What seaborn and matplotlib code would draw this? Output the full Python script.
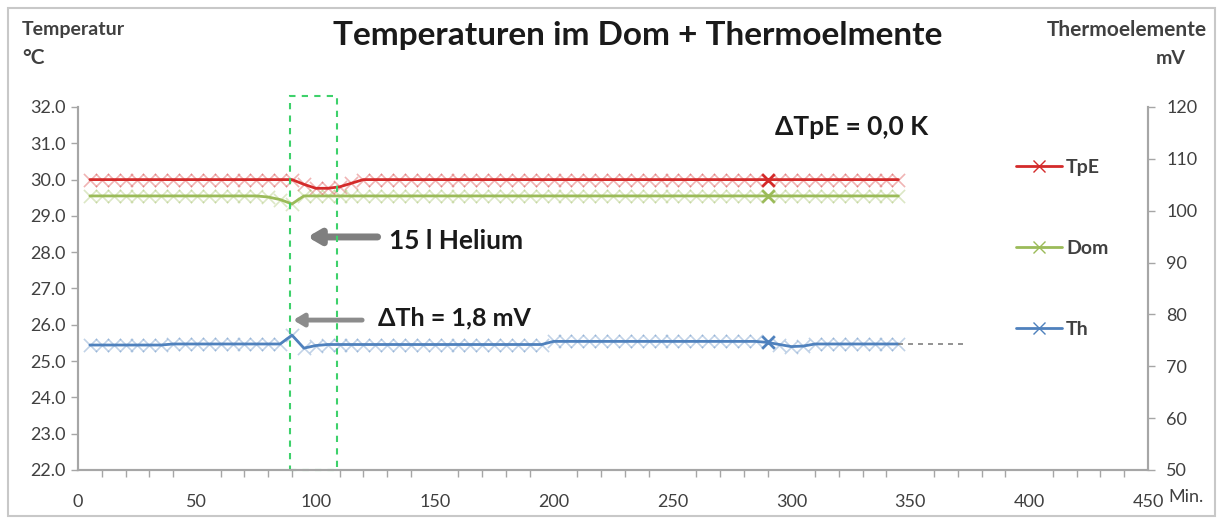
import matplotlib
matplotlib.use("Agg")
import matplotlib.pyplot as plt
import seaborn as sns
import pandas as pd
from matplotlib.lines import Line2D
from matplotlib.patches import Rectangle
from matplotlib.ticker import MultipleLocator, FormatStrFormatter

sns.set_theme(style="white")
plt.rcParams['font.family'] = ['Lato', 'DejaVu Sans']

# Daten: Minuten (alle 5 min) und Messwerte
minuten = list(range(5, 350, 5))
tpe = ([30.0] * 17 + [30.0, 29.87, 29.76, 29.76, 29.80, 29.90, 30.0]
       + [30.0] * 45)
dom = [29.55] * 15 + [29.52, 29.45, 29.33, 29.55] + [29.55] * 50
th_mv = ([74.1] * 7 + [74.3] * 10 + [76.0, 73.5, 74.0] + [74.2] * 19
         + [74.8] * 18 + [74.6, 74.2, 73.8, 73.9] + [74.3] * 8)
trend_x = [345, 372]
trend_y = [74.3, 74.3]
markiert = 290  # hervorgehobener Messpunkt

df = pd.DataFrame({'Min': minuten, 'TpE': tpe, 'Dom': dom, 'Th': th_mv})

c_tpe = '#D42A2A'
c_dom = '#9BBB59'
c_th = '#4F81BD'
grau = '#A6A6A6'
txt = '#404040'

fig = plt.figure(figsize=(12.25, 5.24), dpi=100)
ax = fig.add_axes([78 / 1225, 1 - 470 / 524, (1148 - 78) / 1225, (470 - 107) / 524])
ax2 = ax.twinx()

# Linien
sns.lineplot(data=df, x='Min', y='TpE', ax=ax, color=c_tpe, linewidth=2)
sns.lineplot(data=df, x='Min', y='Dom', ax=ax, color=c_dom, linewidth=2)
sns.lineplot(data=df, x='Min', y='Th', ax=ax2, color=c_th, linewidth=2)
# Marker (blass)
sns.scatterplot(data=df, x='Min', y='TpE', ax=ax, color=c_tpe, marker='x', s=90, alpha=0.35, linewidth=1.2)
sns.scatterplot(data=df, x='Min', y='Dom', ax=ax, color=c_dom, marker='x', s=90, alpha=0.35, linewidth=1.2)
sns.scatterplot(data=df, x='Min', y='Th', ax=ax2, color=c_th, marker='x', s=90, alpha=0.35, linewidth=1.2)
hv = df[df['Min'] == markiert]
sns.scatterplot(data=hv, x='Min', y='TpE', ax=ax, color=c_tpe, marker='x', s=80, linewidth=2)
sns.scatterplot(data=hv, x='Min', y='Dom', ax=ax, color=c_dom, marker='x', s=80, linewidth=2)
sns.scatterplot(data=hv, x='Min', y='Th', ax=ax2, color=c_th, marker='x', s=80, linewidth=2)
# Trend gestrichelt
ax2.plot(trend_x, trend_y, color='#808080', linestyle=(0, (3, 3)), linewidth=1.2)

# Achsen
ax.set_xlim(0, 450)
ax.set_ylim(22, 32)
ax2.set_ylim(50, 120)
ax.xaxis.set_major_locator(MultipleLocator(50))
ax.xaxis.set_minor_locator(MultipleLocator(10))
ax.yaxis.set_major_locator(MultipleLocator(1))
ax.yaxis.set_major_formatter(FormatStrFormatter('%.1f'))
ax2.yaxis.set_major_locator(MultipleLocator(10))
ax.set_xlabel('')
ax.set_ylabel('')
ax2.set_ylabel('')
for a in (ax, ax2):
    for s in a.spines.values():
        s.set_color(grau)
        s.set_linewidth(1.5)
    a.spines['top'].set_visible(False)
    a.grid(False)
ax.tick_params(axis='both', which='both', direction='out', color=grau, labelcolor=txt,
               labelsize=13, length=5, width=1)
ax.tick_params(axis='x', which='minor', bottom=True, length=5, width=1)
ax.tick_params(axis='x', pad=12)
ax.tick_params(axis='y', pad=4)
ax2.tick_params(axis='y', direction='out', color=grau, labelcolor=txt, labelsize=13,
                length=5, width=1, pad=8)

# Markierung Heliumzugabe
ax.add_patch(Rectangle((89, 22), 20, 10.3, fill=False, edgecolor='#3ED16B',
                       linestyle=(0, (3, 3)), linewidth=1.5, clip_on=False, zorder=5))

ax.annotate('', xy=(96.5, 28.42), xytext=(126, 28.42),
            arrowprops=dict(arrowstyle='-|>,head_length=0.6,head_width=0.35', color='#7F7F7F',
                            lw=5, shrinkA=0, shrinkB=0))
ax.annotate('', xy=(90.5, 26.13), xytext=(119.5, 26.13),
            arrowprops=dict(arrowstyle='-|>,head_length=0.5,head_width=0.3', color='#8C8C8C',
                            lw=3.5, shrinkA=0, shrinkB=0))
ax.text(131, 28.31, '15 l Helium', fontsize=19, fontweight='bold', color='#1A1A1A',
        va='center', ha='left')
ax.text(126, 26.2, 'ΔTh = 1,8 mV', fontsize=18, fontweight='bold', color='#1A1A1A',
        va='center', ha='left')
ax.text(293, 31.45, 'ΔTpE = 0,0 K', fontsize=19, fontweight='bold', color='#1A1A1A',
        va='center', ha='left')

# Legende
handles = [Line2D([0], [0], color=c, lw=2, marker='x', markersize=8, markeredgewidth=1)
           for c in (c_tpe, c_dom, c_th)]
leg = ax.legend(handles, ['TpE', 'Dom', 'Th'], loc='upper left',
                bbox_to_anchor=(998 / 1225, 1 - 141 / 524), bbox_transform=fig.transFigure,
                frameon=False, labelspacing=3.3, handlelength=2.4,
                handletextpad=0.2, prop={'weight': 'bold', 'size': 14})
for t in leg.get_texts():
    t.set_color(txt)

# Titel und Achsentexte
fig.text(638 / 1225, 1 - 35 / 524, 'Temperaturen im Dom + Thermoelmente', fontsize=24,
         fontweight='bold', color='#1A1A1A', ha='center', va='center')
fig.text(22 / 1225, 1 - 30 / 524, 'Temperatur', fontsize=14, fontweight='bold', color=txt,
         ha='left', va='center')
fig.text(22 / 1225, 1 - 58 / 524, '°C', fontsize=15, fontweight='bold', color=txt,
         ha='left', va='center')
fig.text(1207 / 1225, 1 - 30 / 524, 'Thermoelemente', fontsize=15, fontweight='bold', color=txt,
         ha='right', va='center')
fig.text(1186 / 1225, 1 - 58 / 524, 'mV', fontsize=14, fontweight='bold', color=txt,
         ha='right', va='center')
fig.text(1168 / 1225, 1 - 497 / 524, 'Min.', fontsize=13, color=txt, ha='left', va='center')

# Rahmen um die Grafik
fig.add_artist(Rectangle((8 / 1225, 8 / 524), 1207 / 1225, 508 / 524, transform=fig.transFigure,
                         fill=False, edgecolor='#C8C8C8', linewidth=1.5))

fig.savefig('out.png', dpi=100)
